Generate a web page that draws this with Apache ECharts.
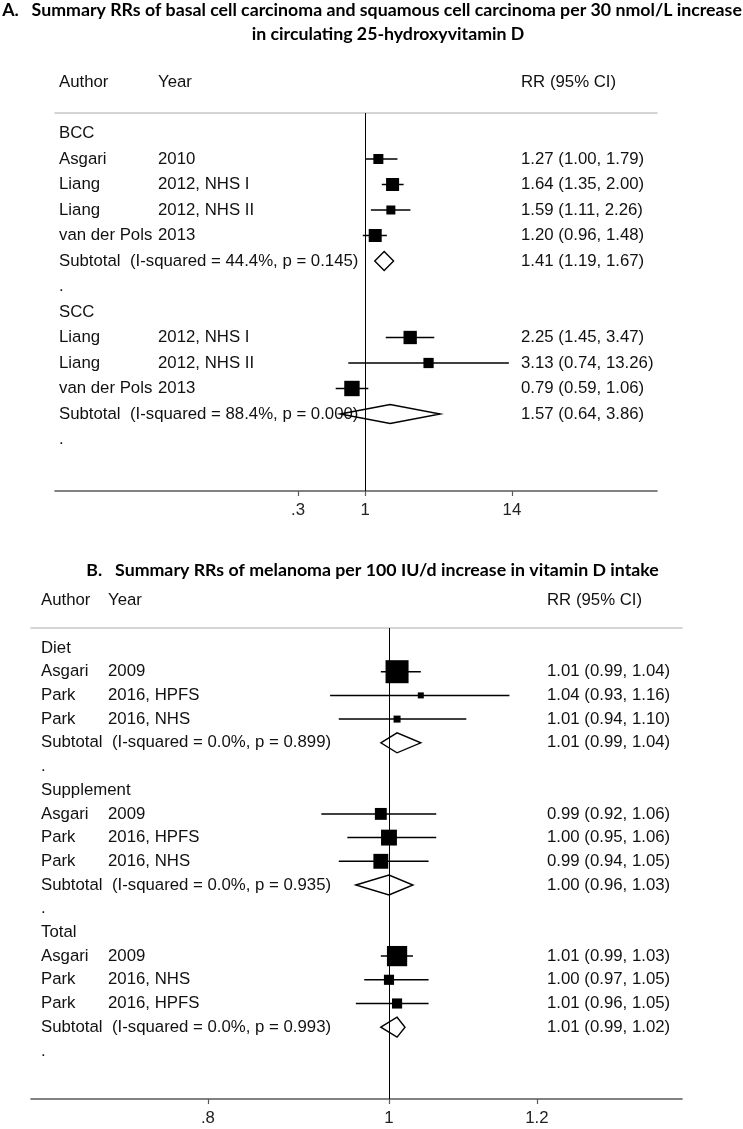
<!DOCTYPE html>
<html><head><meta charset="utf-8">
<script src="https://cdn.jsdelivr.net/npm/echarts@6/dist/echarts.min.js"></script>
<style>html,body{margin:0;padding:0;background:#fff}#c{width:743px;height:1129px}</style>
</head><body><div id="c"></div>
<script>
// ---------- Panel A data ----------
const A_title1 = 'A.   Summary RRs of basal cell carcinoma and squamous cell carcinoma per 30 nmol/L increase';
const A_title2 = 'in circulating 25-hydroxyvitamin D';
const A_authors = ['BCC','Asgari','Liang','Liang','van der Pols','Subtotal  (I-squared = 44.4%, p = 0.145)','.','SCC','Liang','Liang','van der Pols','Subtotal  (I-squared = 88.4%, p = 0.000)','.'];
const A_years = ['','2010','2012, NHS I','2012, NHS II','2013','','','','2012, NHS I','2012, NHS II','2013','',''];
const A_kind = ['h','s','s','s','s','d','h','h','s','s','s','d','h'];
const A_rr = [null,1.27,1.64,1.59,1.20,1.41,null,null,2.25,3.13,0.79,1.57,null];
const A_lo = [null,1.00,1.35,1.11,0.96,1.19,null,null,1.45,0.74,0.59,0.64,null];
const A_hi = [null,1.79,2.00,2.26,1.48,1.67,null,null,3.47,13.26,1.06,3.86,null];
const A_weight = [null,19.3,32.6,15.6,32.5,null,null,null,34.2,20.2,45.6,null,null];
const A_ticks = [0.3, 1, 14];
const A_tickLabels = ['.3', '1', '14'];

// ---------- Panel B data ----------
const B_title = 'B.   Summary RRs of melanoma per 100 IU/d increase in vitamin D intake';
const B_authors = ['Diet','Asgari','Park','Park','Subtotal  (I-squared = 0.0%, p = 0.899)','.','Supplement','Asgari','Park','Park','Subtotal  (I-squared = 0.0%, p = 0.935)','.','Total','Asgari','Park','Park','Subtotal  (I-squared = 0.0%, p = 0.993)','.'];
const B_years = ['','2009','2016, HPFS','2016, NHS','','','','2009','2016, HPFS','2016, NHS','','','','2009','2016, NHS','2016, HPFS','',''];
const B_kind = ['h','s','s','s','d','h','h','s','s','s','d','h','h','s','s','s','d','h'];
const B_rr = [null,1.01,1.04,1.01,1.01,null,null,0.99,1.00,0.99,1.00,null,null,1.01,1.00,1.01,1.01,null];
const B_lo = [null,0.99,0.93,0.94,0.99,null,null,0.92,0.95,0.94,0.96,null,null,0.99,0.97,0.96,0.99,null];
const B_hi = [null,1.04,1.16,1.10,1.04,null,null,1.06,1.06,1.05,1.03,null,null,1.03,1.05,1.05,1.02,null];
const B_weight = [null,86.2,5.9,8.0,null,null,null,23.0,41.0,36.0,null,null,null,66.7,16.7,16.7,null,null];
const B_ticks = [0.8, 1, 1.2];
const B_tickLabels = ['.8', '1', '1.2'];

// ---------- layout / style ----------
const BODY_FONT_FAMILY = '"Liberation Sans", Arial, Helvetica, sans-serif';
const BODY_SIZE = 16.8;
const BODY_FONT = BODY_SIZE + 'px ' + BODY_FONT_FAMILY;
const TITLE_FAMILY = 'Lato, "Open Sans", sans-serif';
const TEXT_COLOR = '#111';

const LA = { left:55, right:86, top:113, height:378, authorX:59, yearX:158, rrX:521, headerY:82,
             xMin:0.0038, xMax:190, yMin:-0.804, yMax:14.02, k:2.28, dh:9.5 };
const LB = { left:31, right:61, top:628, height:471, authorX:41, yearX:108, rrX:547, headerY:600,
             xMin:0.6433, xMax:1.4349, yMin:-0.844, yMax:19.03, k:2.48, dh:10 };

function fitSize(text, family, targetW) {
  const c = document.createElement('canvas').getContext('2d');
  c.font = 'bold 20px ' + family;
  return 20 * targetW / c.measureText(text).width;
}
const tSizeA = fitSize(A_title1, TITLE_FAMILY, 740);
const tSizeB = fitSize(B_title, TITLE_FAMILY, 573);

function fmt(v){ return v.toFixed(2); }

function makeRenderer(P, authors, years, kind, rr, lo, hi, w) {
  return function (params, api) {
    const i = api.value(1);
    const y = api.coord([1, i])[1];
    const ch = [];
    ch.push({ type:'text', z2:5, style:{ text:authors[i], x:P.authorX, y:y, verticalAlign:'middle', font:BODY_FONT, fill:TEXT_COLOR } });
    if (years[i]) ch.push({ type:'text', z2:5, style:{ text:years[i], x:P.yearX, y:y, verticalAlign:'middle', font:BODY_FONT, fill:TEXT_COLOR } });
    if (rr[i] != null) {
      ch.push({ type:'text', z2:5, style:{ text: fmt(rr[i]) + ' (' + fmt(lo[i]) + ', ' + fmt(hi[i]) + ')', x:P.rrX, y:y, verticalAlign:'middle', font:BODY_FONT, fill:TEXT_COLOR } });
      const xl = api.coord([lo[i], i])[0], xh = api.coord([hi[i], i])[0], xc = api.coord([rr[i], i])[0];
      if (kind[i] === 's') {
        ch.push({ type:'line', z2:6, shape:{ x1:xl, y1:y, x2:xh, y2:y }, style:{ stroke:'#000', lineWidth:1.5 } });
        const s = P.k * Math.sqrt(w[i]);
        ch.push({ type:'rect', z2:7, shape:{ x:xc - s/2, y:y - s/2, width:s, height:s }, style:{ fill:'#000' } });
      } else {
        ch.push({ type:'polygon', z2:7, shape:{ points:[[xl,y],[xc,y-P.dh],[xh,y],[xc,y+P.dh]] }, style:{ fill:'none', stroke:'#000', lineWidth:1.4 } });
      }
    }
    return { type:'group', children: ch };
  };
}

function tickFormatter(ticks, labels) {
  return function (v) {
    const j = ticks.findIndex(t => Math.abs(t - v) / t < 1e-6);
    return j >= 0 ? labels[j] : '';
  };
}

function bottomAxis(P, gi, ticks, labels) {
  return {
    type:'log', logBase:10, gridIndex:gi, position:'bottom', min:P.xMin, max:P.xMax,
    axisLine:{ show:true, onZero:false, lineStyle:{ color:'#5a5a5a', width:1.6 } },
    axisTick:{ show:true, customValues:ticks, length:5, lineStyle:{ color:'#5a5a5a', width:1.2 } },
    axisLabel:{ show:true, customValues:ticks, formatter:tickFormatter(ticks, labels), color:'#222',
                fontSize:BODY_SIZE, fontFamily:BODY_FONT_FAMILY, margin:11 },
    splitLine:{ show:false }, minorTick:{show:false}, minorSplitLine:{show:false}
  };
}
function topAxis(P, gi) {
  return {
    type:'log', logBase:10, gridIndex:gi, position:'top', min:P.xMin, max:P.xMax,
    axisLine:{ show:true, onZero:false, lineStyle:{ color:'#c8c8c8', width:1.6 } },
    axisTick:{ show:false }, axisLabel:{ show:false }, splitLine:{ show:false }
  };
}
function yAx(P, gi) {
  return { type:'value', gridIndex:gi, min:P.yMin, max:P.yMax, inverse:true, show:false };
}
function rowSeries(P, gi, authors, years, kind, rr, lo, hi, w) {
  return {
    type:'custom', xAxisIndex:gi*2, yAxisIndex:gi, clip:false, silent:true,
    data: authors.map((_, i) => [1, i]),
    encode:{ x:0, y:1 },
    renderItem: makeRenderer(P, authors, years, kind, rr, lo, hi, w),
    markLine:{ silent:true, symbol:'none', label:{show:false}, animation:false,
               lineStyle:{ color:'#000', width:1, type:'solid' }, data:[{ xAxis:1 }] },
    z:3
  };
}
function headerText(text, x, y) {
  return { type:'text', x:x, y:y, style:{ text:text, font:BODY_FONT, fill:TEXT_COLOR, verticalAlign:'middle' } };
}
function titleText(text, x, y, size) {
  return { type:'text', x:x, y:y, style:{ text:text, font:'bold ' + size.toFixed(2) + 'px ' + TITLE_FAMILY, fill:'#000', align:'center', verticalAlign:'middle' } };
}

const chart = echarts.init(document.getElementById('c'), null, { renderer:'canvas', width:743, height:1129 });
chart.setOption({
  animation:false,
  backgroundColor:'#fff',
  grid:[
    { left:LA.left, right:LA.right, top:LA.top, height:LA.height },
    { left:LB.left, right:LB.right, top:LB.top, height:LB.height }
  ],
  xAxis:[ bottomAxis(LA, 0, A_ticks, A_tickLabels), topAxis(LA, 0),
          bottomAxis(LB, 1, B_ticks, B_tickLabels), topAxis(LB, 1) ],
  yAxis:[ yAx(LA, 0), yAx(LB, 1) ],
  series:[
    rowSeries(LA, 0, A_authors, A_years, A_kind, A_rr, A_lo, A_hi, A_weight),
    rowSeries(LB, 1, B_authors, B_years, B_kind, B_rr, B_lo, B_hi, B_weight)
  ],
  graphic:[
    titleText(A_title1, 372, 10, tSizeA),
    titleText(A_title2, 388, 34.5, tSizeA),
    titleText(B_title, 372.5, 570.5, tSizeB),
    headerText('Author', LA.authorX, LA.headerY),
    headerText('Year', LA.yearX, LA.headerY),
    headerText('RR (95% CI)', LA.rrX, LA.headerY),
    headerText('Author', LB.authorX, LB.headerY),
    headerText('Year', LB.yearX, LB.headerY),
    headerText('RR (95% CI)', LB.rrX, LB.headerY)
  ]
});
</script>
</body></html>
